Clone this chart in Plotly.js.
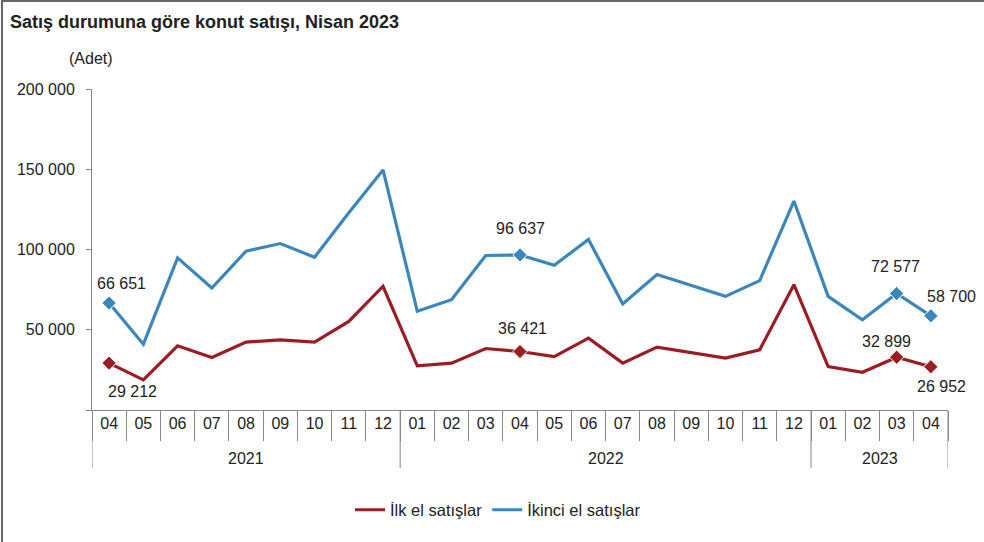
<!DOCTYPE html>
<html>
<head>
<meta charset="utf-8">
<script src="https://cdn.plot.ly/plotly-3.0.1.min.js"></script>
<style>
  html, body { margin: 0; padding: 0; background: #fff; }
  #wrap { position: relative; width: 984px; height: 542px; overflow: hidden; }
  #chart { width: 984px; height: 542px; }
  #frame { position: absolute; left: 1px; top: 0; width: 990px; height: 560px; border-left: 2px solid #666; border-top: 2px solid #666; pointer-events: none; }
</style>
</head>
<body>
<div id="wrap"><div id="chart"></div><div id="frame"></div></div>
<script>
// Categories
const years  = ['2021','2021','2021','2021','2021','2021','2021','2021','2021',
                '2022','2022','2022','2022','2022','2022','2022','2022','2022','2022','2022','2022',
                '2023','2023','2023','2023'];
const months = ['04','05','06','07','08','09','10','11','12',
                '01','02','03','04','05','06','07','08','09','10','11','12',
                '01','02','03','04'];
// Series values (Adet)
const ilkEl    = [29212, 18750, 40000, 32700, 42300, 43750, 42300, 55200, 77100,
                  27500, 29200, 38300, 36421, 33300, 44800, 29200, 39200, 35800, 32300, 37500, 78100,
                  27100, 23500, 32899, 26952];
const ikinciEl = [66651, 41000, 94800, 76000, 99000, 103700, 95200, 122900, 149600,
                  61500, 68750, 96250, 96637, 90200, 106250, 66000, 84400, 77500, 70800, 80600, 130200,
                  70800, 56250, 72577, 58700];
// Which points carry a value label
const labelled = [true, false, false, false, false, false, false, false, false,
                  false, false, false, true, false, false, false, false, false, false, false, false,
                  false, false, true, true];
// label offsets from the point, in px [xshift, yshift]
const ilkShift    = {0: [23, -28], 12: [2, 23], 23: [-10, 16], 24: [11, -20]};
const ikinciShift = {0: [12, 20], 12: [0, 26], 23: [-1, 27], 24: [21, 19]};
// Y ticks
const yTickVals = [0, 50000, 100000, 150000, 200000];
const yTickText = ['', '50 000', '100 000', '150 000', '200 000'];

const fmt = v => String(v).replace(/\B(?=(\d{3})+(?!\d))/g, ' ');
const RED = '#9c1c24', BLUE = '#3b87bd';
const FONT = 'Liberation Sans, Arial, sans-serif';
const x = years.map((y, i) => y + '-' + months[i]);

// year groups -> label at group centre, divider at group boundaries
const groups = [];
years.forEach((y, i) => {
  const g = groups[groups.length - 1];
  if (g && g.year === y) g.end = i; else groups.push({ year: y, start: i, end: i });
});
const YEAR_Y = (410 - 458) / 321, DIV_Y = (410 - 468) / 321;
const shapes = [];
const annotations = [];
groups.forEach((g, k) => {
  if (k === 0) shapes.push({ type: 'line', xref: 'x', yref: 'paper', x0: g.start - 0.5, x1: g.start - 0.5,
                             y0: 0, y1: DIV_Y, line: { color: '#888', width: 1 } });
  shapes.push({ type: 'line', xref: 'x', yref: 'paper', x0: g.end + 0.5, x1: g.end + 0.5,
                y0: 0, y1: DIV_Y, line: { color: '#888', width: 1 } });
  annotations.push({ text: g.year, xref: 'x', yref: 'paper', x: (g.start + g.end) / 2, y: YEAR_Y,
                     xanchor: 'center', yanchor: 'middle', showarrow: false,
                     font: { family: FONT, size: 16, color: '#222' } });
});
annotations.push({ text: '(Adet)', xref: 'paper', yref: 'paper', x: (67 - 92) / 856, y: (410 - 58) / 321,
                   xanchor: 'left', yanchor: 'middle', showarrow: false,
                   font: { family: FONT, size: 16, color: '#222' } });
// value labels
function addLabels(vals, shiftMap) {
  vals.forEach((v, i) => {
    if (!labelled[i]) return;
    const s = shiftMap[i] || [0, 20];
    annotations.push({ text: fmt(v), xref: 'x', yref: 'y', x: x[i], y: v,
                       xshift: s[0], yshift: s[1], xanchor: 'center', yanchor: 'middle',
                       showarrow: false, font: { family: FONT, size: 16, color: '#222' } });
  });
}
addLabels(ilkEl, ilkShift);
addLabels(ikinciEl, ikinciShift);

function markerTrace(vals, color) {
  return {
    type: 'scatter', mode: 'markers', x: x, y: vals, showlegend: false, hoverinfo: 'skip',
    marker: { symbol: 'diamond', color: color, opacity: 1, size: labelled.map(l => l ? 11 : 0) },
    cliponaxis: false
  };
}

const data = [
  { type: 'scatter', mode: 'lines', name: 'İlk el satışlar', x: x, y: ilkEl,
    line: { color: RED, width: 3.2 } },
  { type: 'scatter', mode: 'lines', name: 'İkinci el satışlar', x: x, y: ikinciEl,
    line: { color: BLUE, width: 3.2 } },
  markerTrace(ilkEl, RED),
  markerTrace(ikinciEl, BLUE)
];

const layout = {
  width: 984, height: 542,
  margin: { l: 92, r: 36, t: 89, b: 132 },
  paper_bgcolor: '#fff', plot_bgcolor: '#fff',
  font: { family: FONT, size: 16, color: '#222' },
  title: { text: 'Satış durumuna göre konut satışı, Nisan 2023',
           font: { family: FONT, size: 18, color: '#222', weight: 'bold' },
           x: 10/984, xref: 'container', xanchor: 'left',
           y: 1 - 22/542, yref: 'container', yanchor: 'middle' },
  xaxis: {
    type: 'category', showgrid: false, zeroline: false,
    range: [-0.5, x.length - 0.5],
    showline: true, linecolor: '#888', linewidth: 1,
    ticks: 'outside', tickson: 'boundaries', ticklen: 30, tickcolor: '#888',
    tickvals: x, ticktext: months, tickangle: 0, ticklabelstandoff: -1,
    tickfont: { family: FONT, size: 16, color: '#222' }
  },
  yaxis: {
    range: [0, 200000], showgrid: false, zeroline: false,
    showline: true, linecolor: '#888', linewidth: 1,
    ticks: 'outside', ticklen: 5, tickcolor: '#888',
    tickvals: yTickVals, ticktext: yTickText, ticklabelstandoff: 8,
    tickfont: { family: FONT, size: 16, color: '#222' }
  },
  showlegend: true,
  legend: { orientation: 'h', x: (350 - 92) / 856, xanchor: 'left',
            y: (410 - 510) / 321, yanchor: 'middle',
            font: { family: FONT, size: 16.5, color: '#222' }, bgcolor: 'rgba(0,0,0,0)' },
  shapes: shapes,
  annotations: annotations
};

Plotly.newPlot('chart', data, layout, { displayModeBar: false, staticPlot: true });
</script>
</body>
</html>
